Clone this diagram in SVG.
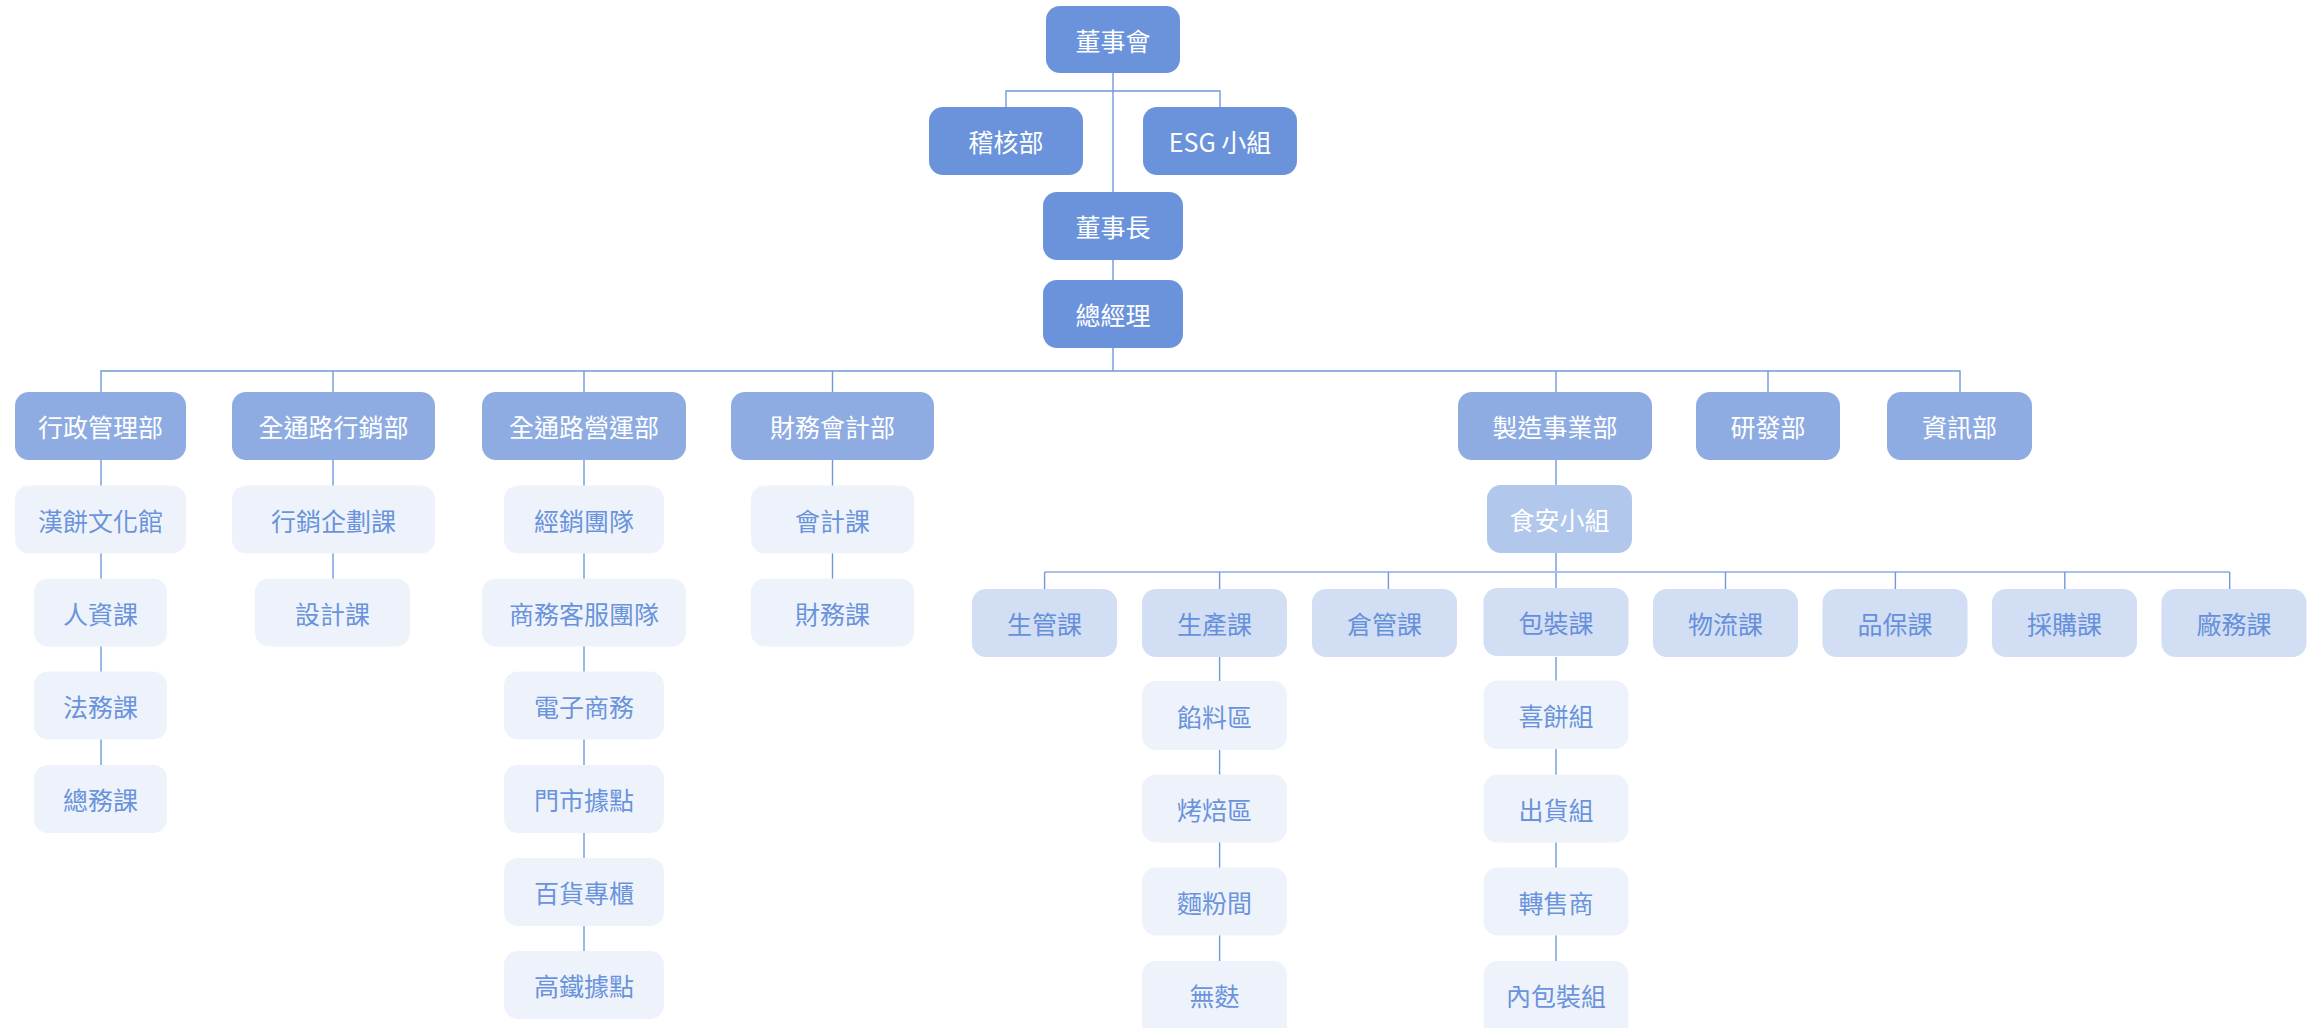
<svg xmlns="http://www.w3.org/2000/svg" width="2321" height="1028" viewBox="0 0 2321 1028">
<style>
text{font-family:"Noto Sans CJK TC","Noto Sans CJK SC","Noto Sans",sans-serif;font-size:25px;text-anchor:middle;dominant-baseline:central}
.l0 rect{fill:#6A93DB}.l0 text{fill:#fff}
.l1 rect{fill:#8EACE2}.l1 text{fill:#fff}
.l2 rect{fill:#B2C7EC}.l2 text{fill:#fff}
.l3 rect{fill:#D2DEF4}.l3 text{fill:#6690DA}
.l4 rect{fill:#EEF3FB}.l4 text{fill:#6A93DB}
.c{fill:none;stroke:#7099DC;stroke-width:1.4}
.cl{fill:none;stroke:#A8C0EC;stroke-width:2}
</style>
<rect width="2321" height="1028" fill="#fff"/>
<g id="connectors">
<path class="c" d="M1113 73V192M1006 107V91H1220V107M1113 260V280M1113 348V371"/>
<path class="c" d="M101 392V371H1960V392M333 371V392M584 371V392M832.5 371V392M1556 371V392M1768 371V392"/>
<path class="c" d="M101 460V765M333 460V579M584 460V951M832.5 460V579"/>
<path class="c" d="M1556 460V485M1556 553V589"/>
<path class="cl" d="M1044.6 572H2229.7"/>
<path class="c" d="M1044.6 572V589M1219.6 572V589M1388.4 572V589M1725.5 572V589M1895.4 572V589M2064.8 572V589M2229.7 572V589"/>
<path class="c" d="M1219.6 657V961M1556 657V961"/>
</g>
<g id="n-board" class="l0"><rect x="1046" y="6" width="134" height="67" rx="14"/><text x="1113" y="39.5">董事會</text></g>
<g id="n-audit" class="l0"><rect x="929" y="107" width="154" height="68" rx="14"/><text x="1006" y="141">稽核部</text></g>
<g id="n-esg" class="l0"><rect x="1143" y="107" width="154" height="68" rx="14"/><text x="1220" y="141">ESG 小組</text></g>
<g id="n-chair" class="l0"><rect x="1043" y="192" width="140" height="68" rx="14"/><text x="1113" y="226">董事長</text></g>
<g id="n-gm" class="l0"><rect x="1043" y="280" width="140" height="68" rx="14"/><text x="1113" y="314">總經理</text></g>

<g id="n-admin" class="l1"><rect x="15" y="392" width="171" height="68" rx="14"/><text x="100.5" y="426">行政管理部</text></g>
<g id="n-mkt" class="l1"><rect x="232" y="392" width="203" height="68" rx="14"/><text x="333.5" y="426">全通路行銷部</text></g>
<g id="n-ops" class="l1"><rect x="482" y="392" width="204" height="68" rx="14"/><text x="584" y="426">全通路營運部</text></g>
<g id="n-fin" class="l1"><rect x="731" y="392" width="203" height="68" rx="14"/><text x="832.5" y="426">財務會計部</text></g>
<g id="n-mfg" class="l1"><rect x="1458" y="392" width="194" height="68" rx="14"/><text x="1555" y="426">製造事業部</text></g>
<g id="n-rd" class="l1"><rect x="1696" y="392" width="144" height="68" rx="14"/><text x="1768" y="426">研發部</text></g>
<g id="n-it" class="l1"><rect x="1887" y="392" width="145" height="68" rx="14"/><text x="1959.5" y="426">資訊部</text></g>

<g id="n-museum" class="l4"><rect x="15" y="485.5" width="171" height="68" rx="14"/><text x="100.5" y="519.5">漢餅文化館</text></g>
<g id="n-hr" class="l4"><rect x="34" y="578.5" width="133" height="68" rx="14"/><text x="100.5" y="612.5">人資課</text></g>
<g id="n-legal" class="l4"><rect x="34" y="671.5" width="133" height="68" rx="14"/><text x="100.5" y="705.5">法務課</text></g>
<g id="n-general" class="l4"><rect x="34" y="765" width="133" height="68" rx="14"/><text x="100.5" y="799">總務課</text></g>

<g id="n-plan" class="l4"><rect x="232" y="485.5" width="203" height="68" rx="14"/><text x="333.5" y="519.5">行銷企劃課</text></g>
<g id="n-design" class="l4"><rect x="255" y="578.5" width="155" height="68" rx="14"/><text x="332.5" y="612.5">設計課</text></g>

<g id="n-dist" class="l4"><rect x="504" y="485.5" width="160" height="68" rx="14"/><text x="584" y="519.5">經銷團隊</text></g>
<g id="n-cs" class="l4"><rect x="482" y="578.5" width="204" height="68" rx="14"/><text x="584" y="612.5">商務客服團隊</text></g>
<g id="n-ec" class="l4"><rect x="504" y="671.5" width="160" height="68" rx="14"/><text x="584" y="705.5">電子商務</text></g>
<g id="n-store" class="l4"><rect x="504" y="765" width="160" height="68" rx="14"/><text x="584" y="799">門市據點</text></g>
<g id="n-dept" class="l4"><rect x="504" y="858" width="160" height="68" rx="14"/><text x="584" y="892">百貨專櫃</text></g>
<g id="n-hsr" class="l4"><rect x="504" y="951" width="160" height="68" rx="14"/><text x="584" y="985">高鐵據點</text></g>

<g id="n-acct" class="l4"><rect x="751" y="485.5" width="163" height="68" rx="14"/><text x="832.5" y="519.5">會計課</text></g>
<g id="n-finsec" class="l4"><rect x="751" y="578.5" width="163" height="68" rx="14"/><text x="832.5" y="612.5">財務課</text></g>

<g id="n-food" class="l2"><rect x="1487" y="485" width="145" height="68" rx="14"/><text x="1559.5" y="519">食安小組</text></g>

<g id="n-pc" class="l3"><rect x="972" y="589" width="145" height="68" rx="14"/><text x="1044.5" y="623">生管課</text></g>
<g id="n-prod" class="l3"><rect x="1142" y="589" width="145" height="68" rx="14"/><text x="1214.5" y="623">生產課</text></g>
<g id="n-wh" class="l3"><rect x="1312" y="589" width="145" height="68" rx="14"/><text x="1384.5" y="623">倉管課</text></g>
<g id="n-pack" class="l3"><rect x="1483.5" y="588" width="145" height="68" rx="14"/><text x="1556" y="622">包裝課</text></g>
<g id="n-log" class="l3"><rect x="1653" y="589" width="145" height="68" rx="14"/><text x="1725.5" y="623">物流課</text></g>
<g id="n-qa" class="l3"><rect x="1822.5" y="589" width="145" height="68" rx="14"/><text x="1895" y="623">品保課</text></g>
<g id="n-pur" class="l3"><rect x="1992" y="589" width="145" height="68" rx="14"/><text x="2064.5" y="623">採購課</text></g>
<g id="n-fac" class="l3"><rect x="2161.5" y="589" width="145" height="68" rx="14"/><text x="2234" y="623">廠務課</text></g>

<g id="n-filling" class="l4"><rect x="1142" y="681" width="145" height="69" rx="14"/><text x="1214.5" y="715.5">餡料區</text></g>
<g id="n-bake" class="l4"><rect x="1142" y="774.5" width="145" height="68" rx="14"/><text x="1214.5" y="808.5">烤焙區</text></g>
<g id="n-flour" class="l4"><rect x="1142" y="867.5" width="145" height="68" rx="14"/><text x="1214.5" y="901.5">麵粉間</text></g>
<g id="n-gf" class="l4"><rect x="1142" y="961" width="145" height="80" rx="14"/><text x="1214.5" y="995">無麩</text></g>

<g id="n-wedding" class="l4"><rect x="1483.5" y="680.5" width="145" height="68.5" rx="14"/><text x="1556" y="715">喜餅組</text></g>
<g id="n-ship" class="l4"><rect x="1483.5" y="774.5" width="145" height="68" rx="14"/><text x="1556" y="808.5">出貨組</text></g>
<g id="n-resale" class="l4"><rect x="1483.5" y="867.5" width="145" height="68" rx="14"/><text x="1556" y="901.5">轉售商</text></g>
<g id="n-inner" class="l4"><rect x="1483.5" y="961" width="145" height="80" rx="14"/><text x="1556" y="995">內包裝組</text></g>
</svg>
